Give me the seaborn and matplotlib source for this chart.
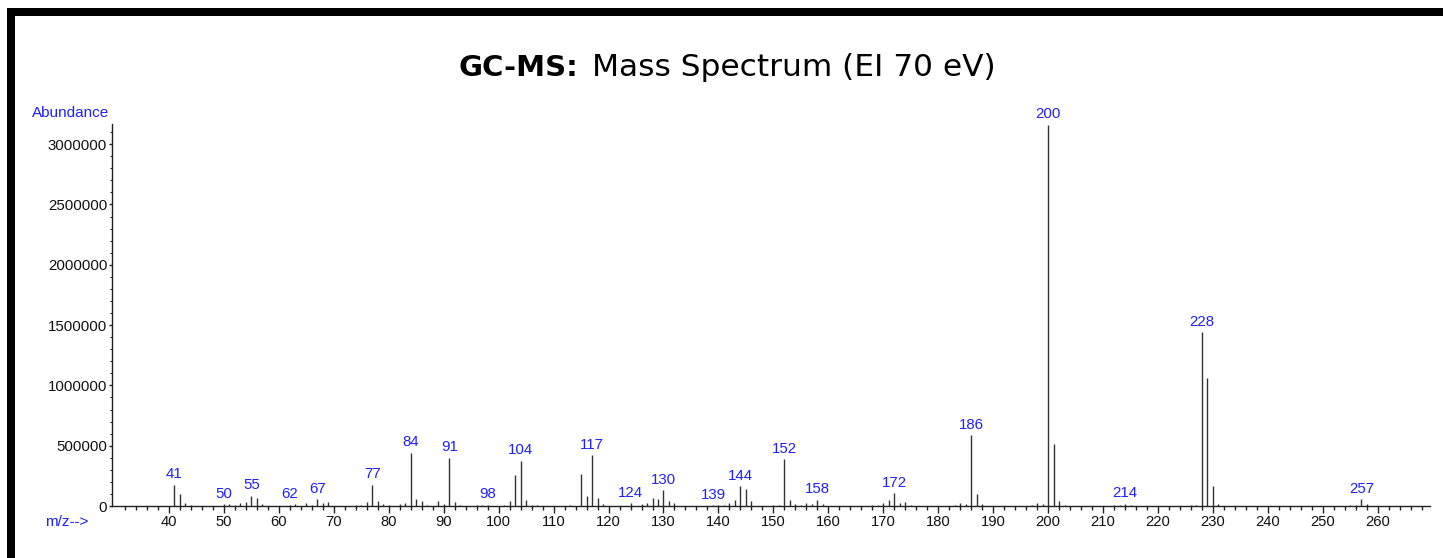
import matplotlib
matplotlib.use("Agg")
import matplotlib.pyplot as plt
from matplotlib.patches import Rectangle
from matplotlib.ticker import MultipleLocator, FixedLocator
import seaborn as sns

# ---------------- data ----------------
mz = [41, 42, 43, 44, 50, 51, 52, 53, 54, 55, 56, 57, 62, 63, 65, 66, 67, 68, 69,
      74, 75, 76, 77, 78, 79, 80, 82, 83, 84, 85, 86, 87, 89, 90, 91, 92, 93,
      96, 97, 98, 101, 102, 103, 104, 105, 106, 107, 113, 115, 116, 117, 118, 119,
      124, 126, 127, 128, 129, 130, 131, 132, 139, 140, 141, 142, 143, 144, 145, 146,
      150, 151, 152, 153, 154, 155, 156, 157, 158, 159, 168, 169, 170, 171, 172, 173,
      174, 175, 183, 184, 185, 186, 187, 188, 197, 198, 199, 200, 201, 202, 203,
      212, 213, 214, 215, 226, 227, 228, 229, 230, 231, 255, 256, 257, 258]
abundance = [175000, 103000, 25000, 8000, 15000, 20000, 10000, 25000, 30000, 85000, 65000, 15000,
             10000, 15000, 28000, 12000, 55000, 25000, 30000,
             8000, 10000, 30000, 175000, 45000, 20000, 8000, 15000, 25000, 443000, 55000, 42000,
             12000, 45000, 15000, 399000, 36000, 10000,
             8000, 10000, 12000, 10000, 39000, 260000, 374000, 53000, 12000, 8000, 10000,
             269000, 80000, 421000, 69000, 15000,
             25000, 15000, 25000, 69000, 61000, 130000, 39000, 25000, 8000, 10000, 11000,
             25000, 53000, 163000, 144000, 39000,
             8000, 12000, 388000, 53000, 14000, 10000, 25000, 20000, 53000, 14000, 8000,
             10000, 28000, 53000, 108000, 25000,
             33000, 10000, 10000, 28000, 14000, 587000, 97000, 14000, 10000, 28000, 14000,
             3160000, 513000, 39000, 8000,
             8000, 10000, 20000, 8000, 8000, 12000, 1441000, 1058000, 166000, 14000,
             8000, 10000, 55000, 14000]
labeled_mz = [41, 50, 55, 62, 67, 77, 84, 91, 98, 104, 117, 124, 130, 139, 144,
              152, 158, 172, 186, 200, 214, 228, 257]
x_major_ticks = list(range(40, 261, 10))
y_major_ticks = [0, 500000, 1000000, 1500000, 2000000, 2500000, 3000000]
title_bold = "GC-MS:"
title_rest = "Mass Spectrum (EI 70 eV)"
y_label = "Abundance"
x_label = "m/z-->"

# ---------------- style ----------------
sns.set_theme(style="ticks")
plt.rcParams["font.family"] = ["Liberation Sans", "DejaVu Sans"]

W, H = 1443, 558
fig = plt.figure(figsize=(W / 100, H / 100), dpi=100)
fig.patch.set_facecolor("white")

ax_left, ax_right, ax_bottom, ax_top = 112, 1430, 506, 124
ax = fig.add_axes([ax_left / W, 1 - ax_bottom / H, (ax_right - ax_left) / W, (ax_bottom - ax_top) / H])
ax.set_facecolor("white")

blue = "#1f1fff"
stem_color = "#333333"

ax.vlines(mz, 0, abundance, colors=stem_color, linewidth=1.0)

lookup = dict(zip(mz, abundance))
for m in labeled_mz:
    ax.annotate(str(m), xy=(m, lookup[m]), xytext=(0, 2.5), textcoords="offset points",
                ha="center", va="bottom", color=blue, fontsize=10.8)

ax.set_xlim(29.63, 269.5)
ax.set_ylim(0, 3167000)

ax.xaxis.set_major_locator(FixedLocator(x_major_ticks))
ax.xaxis.set_minor_locator(FixedLocator([v for v in range(32, 269, 2) if v % 10 != 0]))
ax.yaxis.set_major_locator(FixedLocator(y_major_ticks))
ax.yaxis.set_minor_locator(MultipleLocator(100000))
ax.set_yticklabels([str(v) for v in y_major_ticks])

ax.tick_params(axis="x", which="major", length=5, width=1, color="#222222", labelsize=10.6,
               labelcolor="#111111", pad=1.5, direction="out")
ax.tick_params(axis="x", which="minor", length=3, width=1, color="#222222", direction="out")
ax.tick_params(axis="y", which="major", length=2.5, width=1, color="#222222", labelsize=10.8,
               labelcolor="#111111", pad=1, direction="out")
ax.tick_params(axis="y", which="minor", length=1.5, width=0.8, color="#222222", direction="out")

for s in ["top", "right"]:
    ax.spines[s].set_visible(False)
for s in ["left", "bottom"]:
    ax.spines[s].set_color("#222222")
    ax.spines[s].set_linewidth(1.0)
ax.grid(False)

fig.text(32 / W, 1 - 113 / H, y_label, color=blue, fontsize=11, ha="left", va="center")
fig.text(45 / W, 1 - 522 / H, x_label, color=blue, fontsize=11, ha="left", va="center")

# title: bold part + regular part on a shared baseline
base_y = 1 - 76 / H
t1 = fig.text(458 / W, base_y, title_bold, fontsize=21, fontweight="heavy",
              family=["DejaVu Sans"], ha="left", va="baseline", color="black")
renderer = fig.canvas.get_renderer()
bb = t1.get_window_extent(renderer=renderer)
fig.text((bb.x1 + 14) / W, base_y, title_rest, fontsize=22.5,
         family=["DejaVu Sans"], ha="left", va="baseline", color="black")

# black frame edges (top and left)
fig.add_artist(Rectangle((7 / W, 1 - 16 / H), 1 - 7 / W, 8 / H, transform=fig.transFigure,
                         facecolor="black", edgecolor="none"))
fig.add_artist(Rectangle((7 / W, 0), 8 / W, 1 - 8 / H, transform=fig.transFigure,
                         facecolor="black", edgecolor="none"))

fig.savefig("out.png", dpi=100, facecolor="white")
